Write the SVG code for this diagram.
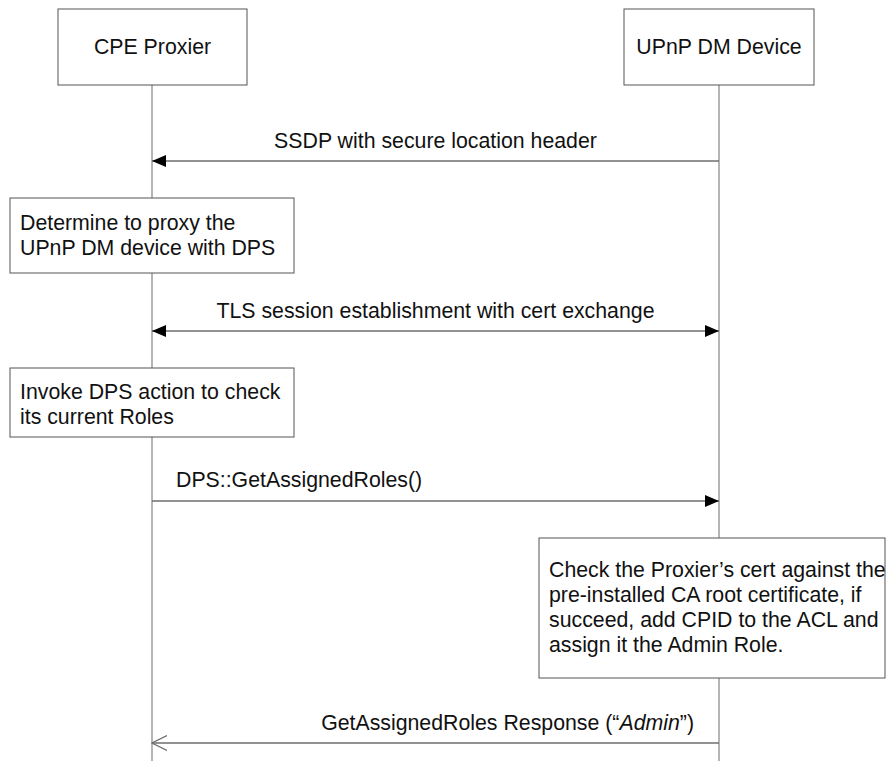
<svg xmlns="http://www.w3.org/2000/svg" width="888" height="761" viewBox="0 0 888 761">
  <style>
    text { font-family: "Liberation Sans", Arial, sans-serif; font-size: 21.3px; fill: #111; }
    .box { fill: #fff; stroke: #555; stroke-width: 1; }
    .life { stroke: #9c9c9c; stroke-width: 1.5; fill: none; }
    .msg { stroke: #6e6e6e; stroke-width: 1.3; fill: none; }
    .mid { text-anchor: middle; }
  </style>
  <defs>
    <marker id="solid" viewBox="0 0 14 12" refX="14" refY="6" markerWidth="14" markerHeight="12" markerUnits="userSpaceOnUse" orient="auto-start-reverse">
      <path d="M0,0 L14,6 L0,12 Z" fill="#000"/>
    </marker>
    <marker id="open" viewBox="0 0 16 16" refX="15" refY="8" markerWidth="16" markerHeight="16" markerUnits="userSpaceOnUse" orient="auto">
      <path d="M0,0.5 L15,8 L0,15.5" fill="none" stroke="#6e6e6e" stroke-width="1.2"/>
    </marker>
  </defs>

  <!-- lifelines -->
  <g id="lifelines">
    <line class="life" x1="152" y1="85" x2="152" y2="761"/>
    <line class="life" x1="719" y1="85" x2="719" y2="761"/>
  </g>

  <!-- participants -->
  <g id="cpe-proxier">
    <rect class="box" x="58" y="9" width="189" height="76"/>
    <text class="mid" x="152.5" y="54">CPE Proxier</text>
  </g>
  <g id="upnp-dm-device">
    <rect class="box" x="624" y="9" width="190" height="76"/>
    <text class="mid" x="719" y="54">UPnP DM Device</text>
  </g>

  <!-- notes -->
  <g id="note-determine">
    <rect class="box" x="10" y="198" width="284" height="75"/>
    <text x="20" y="230">Determine to proxy the</text>
    <text x="20" y="255">UPnP DM device with DPS</text>
  </g>
  <g id="note-invoke">
    <rect class="box" x="10" y="368" width="284" height="69"/>
    <text x="20" y="398.5">Invoke DPS action to check</text>
    <text x="20" y="423.5">its current Roles</text>
  </g>
  <g id="note-check">
    <rect class="box" x="539" y="538" width="346" height="140"/>
    <text x="549" y="577">Check the Proxier’s cert against the</text>
    <text x="549" y="602">pre-installed CA root certificate, if</text>
    <text x="549" y="627">succeed, add CPID to the ACL and</text>
    <text x="549" y="652">assign it the Admin Role.</text>
  </g>

  <!-- messages -->
  <g id="connectors">
    <line class="msg" x1="719" y1="161" x2="152" y2="161" marker-end="url(#solid)"/>
    <line class="msg" x1="152" y1="331" x2="719" y2="331" marker-start="url(#solid)" marker-end="url(#solid)"/>
    <line class="msg" x1="152" y1="501" x2="719" y2="501" marker-end="url(#solid)"/>
    <line class="msg" x1="719" y1="743" x2="152" y2="743" marker-end="url(#open)"/>
  </g>
  <g id="labels">
    <text class="mid" x="435.5" y="148">SSDP with secure location header</text>
    <text class="mid" x="435.5" y="318">TLS session establishment with cert exchange</text>
    <text x="176" y="487">DPS::GetAssignedRoles()</text>
    <text x="694" y="730" text-anchor="end">GetAssignedRoles Response (“<tspan font-style="italic">Admin</tspan>”)</text>
  </g>
</svg>
